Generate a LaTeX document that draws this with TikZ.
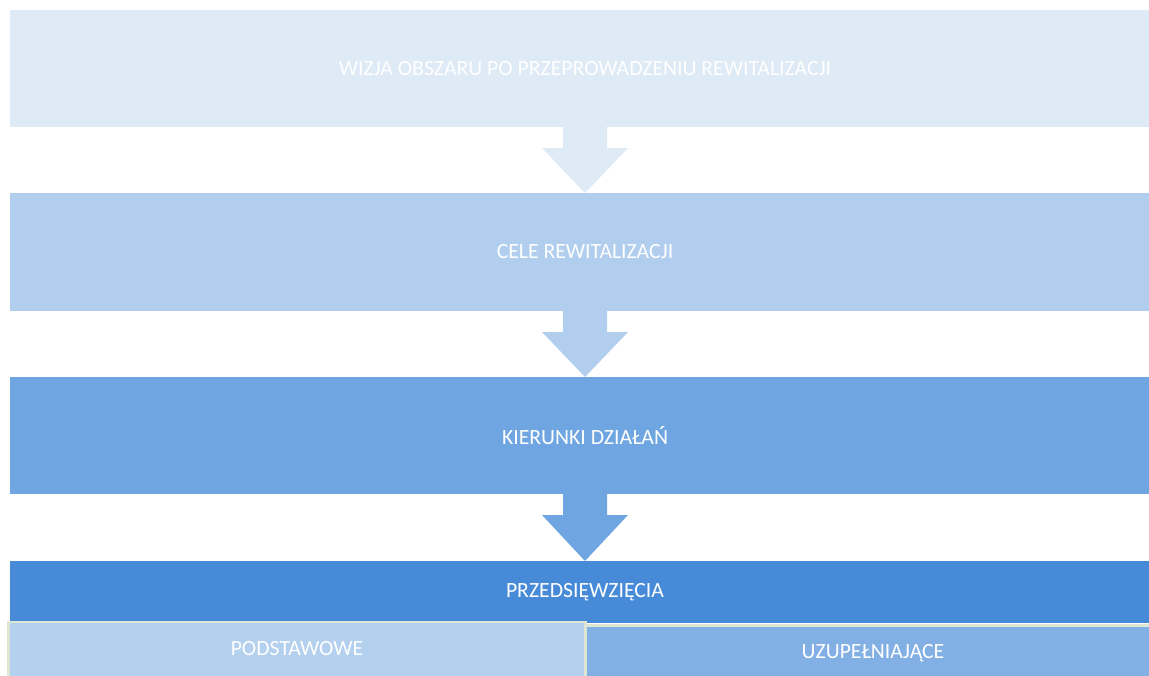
\documentclass[tikz,border=0pt]{standalone}
\usepackage{fontspec}
\setmainfont{Carlito}
\usetikzlibrary{calc}
\definecolor{cA}{HTML}{DEEAF6}
\definecolor{cB}{HTML}{B1CEEE}
\definecolor{cC}{HTML}{6FA5E0}
\definecolor{cD}{HTML}{468AD8}
\definecolor{cE}{HTML}{B3D0EE}
\definecolor{cF}{HTML}{83B0E4}
\definecolor{cBorder}{HTML}{DCE6D2}
\tikzset{
  box/.style={rectangle, inner sep=0pt, outer sep=0pt, anchor=north west,
    text=white, font=\fontsize{21.7}{24}\selectfont},
  edge/.style={cBorder, line width=2.5pt}
}
\newcommand{\downarrowshape}[3]{%
  \fill[#1] ($(#2)+(-22,0)$) -- ($(#2)+(22,0)$) -- ($(#2)+(22,-21)$)
    -- ($(#2)+(43,-21)$) -- (#3) -- ($(#2)+(-43,-21)$)
    -- ($(#2)+(-22,-21)$) -- cycle;}
\begin{document}
\begin{tikzpicture}[x=1pt,y=1pt]
\useasboundingbox (0,0) rectangle (1149,-675);
\clip (0,0) rectangle (1149,-675);
\node[box, fill=cA, minimum width=1150pt, minimum height=117pt] (b1) at (10,-10)
  {WIZJA OBSZARU PO PRZEPROWADZENIU REWITALIZACJI};
\node[box, fill=cB, minimum width=1150pt, minimum height=118pt] (b2) at (10,-193)
  {CELE REWITALIZACJI};
\node[box, fill=cC, minimum width=1150pt, minimum height=117pt] (b3) at (10,-377)
  {KIERUNKI DZIAŁAŃ};
\node[box, fill=cD, minimum width=1150pt, minimum height=62pt] (b4) at (10,-561)
  {PRZEDSIĘWZIĘCIA};
\node[box, fill=cE, minimum width=577pt, minimum height=54pt] (b5) at (8.5,-622)
  {PODSTAWOWE};
\node[box, fill=cF, minimum width=575pt, minimum height=56pt] (b6) at (585.5,-625.5)
  {UZUPEŁNIAJĄCE};
\draw[edge] (b5.south west) -- (b5.north west) -- (b5.north east) -- (b5.south east);
\draw[edge] (b6.north west) -- (b6.north east);
\coordinate (a1s) at (585,-127);
\coordinate (a1e) at (585,-193);
\coordinate (a2s) at (585,-311);
\coordinate (a2e) at (585,-377);
\coordinate (a3s) at (585,-494);
\coordinate (a3e) at (585,-561);
\downarrowshape{cA}{a1s}{a1e}
\downarrowshape{cB}{a2s}{a2e}
\downarrowshape{cC}{a3s}{a3e}
\end{tikzpicture}
\end{document}
